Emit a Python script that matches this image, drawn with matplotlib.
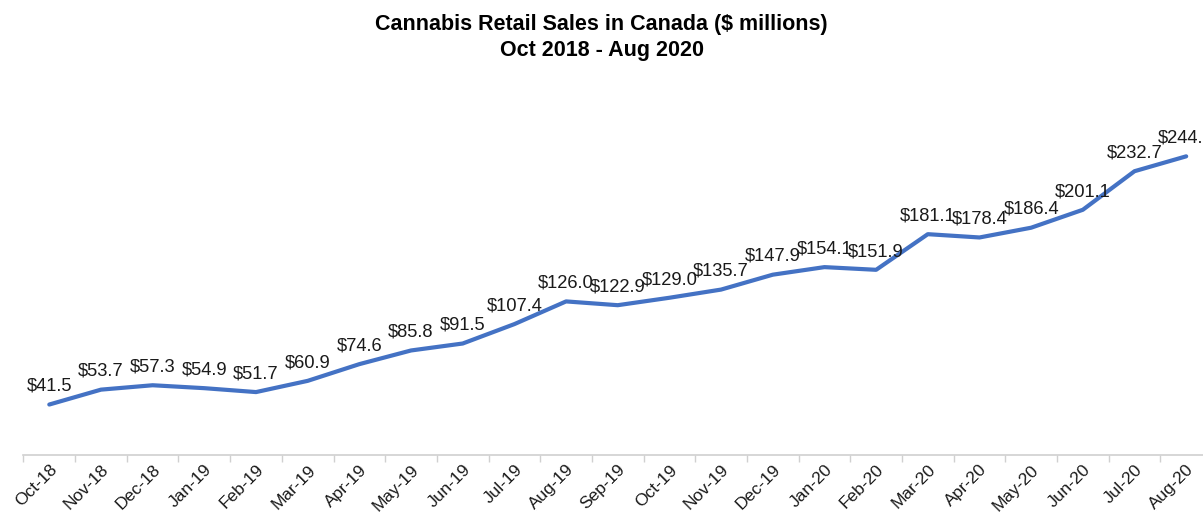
import matplotlib.pyplot as plt
import numpy as np

plt.rcParams['font.family'] = ['Liberation Sans', 'DejaVu Sans']

months = ['Oct-18', 'Nov-18', 'Dec-18', 'Jan-19', 'Feb-19', 'Mar-19', 'Apr-19', 'May-19',
          'Jun-19', 'Jul-19', 'Aug-19', 'Sep-19', 'Oct-19', 'Nov-19', 'Dec-19', 'Jan-20',
          'Feb-20', 'Mar-20', 'Apr-20', 'May-20', 'Jun-20', 'Jul-20', 'Aug-20']
sales = [41.5, 53.7, 57.3, 54.9, 51.7, 60.9, 74.6, 85.8, 91.5, 107.4, 126.0, 122.9,
         129.0, 135.7, 147.9, 154.1, 151.9, 181.1, 178.4, 186.4, 201.1, 232.7, 244.9]

fig = plt.figure(figsize=(12.03, 5.12), dpi=100)
ax = fig.add_axes([0.0195, 0.111, 0.988, 0.715])

x = np.arange(len(months))
ax.plot(x, sales, color='#4472C4', linewidth=3, solid_capstyle='round')

for xi, v in zip(x, sales):
    ax.annotate(f'${v:.1f}', (xi, v), xytext=(0, 7), textcoords='offset points',
                ha='center', va='bottom', fontsize=13.2, color='#1a1a1a')

ax.set_xlim(-0.5, len(months) - 0.5)
ax.set_ylim(0, 300)
ax.set_xticks(x)
ax.set_xticklabels(months, rotation=45, ha='right', rotation_mode='anchor',
                   fontsize=12.5, color='#1a1a1a')
ax.set_xticks(np.arange(len(months) + 1) - 0.5, minor=True)
ax.tick_params(axis='x', which='major', length=0, pad=5)
ax.tick_params(axis='x', which='minor', length=5, color='#D0D0D0', width=1)
ax.set_yticks([])

for s in ['top', 'right', 'left']:
    ax.spines[s].set_visible(False)
ax.spines['bottom'].set_color('#D0D0D0')
ax.spines['bottom'].set_linewidth(1.2)

fig.text(0.5, 0.972, 'Cannabis Retail Sales in Canada ($ millions)\nOct 2018 - Aug 2020',
         ha='center', va='top', fontsize=15.5, fontweight='bold', linespacing=1.3)

fig.savefig('out.png', dpi=100)
